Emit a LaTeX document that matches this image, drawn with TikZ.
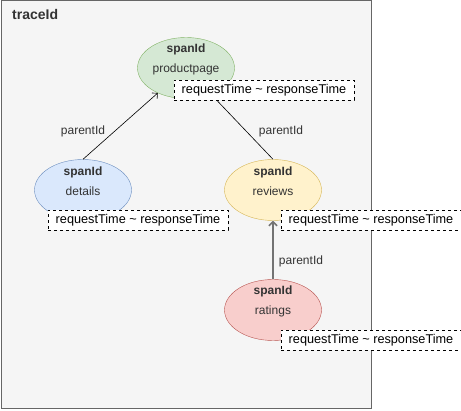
\documentclass[tikz,border=0pt]{standalone}
\usepackage{fontspec}
\setmainfont{Liberation Sans}
\usetikzlibrary{shapes.geometric, arrows.meta}

\definecolor{framefill}{HTML}{F5F5F5}
\definecolor{frameline}{HTML}{666666}
\definecolor{textgray}{HTML}{333333}
\definecolor{greenfill}{HTML}{D5E8D4}
\definecolor{greenline}{HTML}{82B366}
\definecolor{bluefill}{HTML}{DAE8FC}
\definecolor{blueline}{HTML}{6C8EBF}
\definecolor{yellowfill}{HTML}{FFF2CC}
\definecolor{yellowline}{HTML}{D6B656}
\definecolor{redfill}{HTML}{F8CECC}
\definecolor{redline}{HTML}{B85450}

\tikzset{
  span/.style={ellipse, minimum width=97pt, minimum height=61pt, inner sep=0pt},
  spantext/.style={align=center, text=textgray, font=\fontsize{12}{20}\selectfont},
  timebox/.style={draw=black, dashed, fill=white, minimum width=180pt, minimum height=20pt,
    inner sep=0pt, font=\fontsize{12.7}{14}\selectfont},
  edgelabel/.style={text=textgray, font=\fontsize{12}{14}\selectfont, inner sep=0pt},
  parentarrow/.style={-{Straight Barb[length=4pt, width=8pt]}, line width=0.6pt}
}

\begin{document}
\begin{tikzpicture}[x=1pt, y=-1pt]
  \useasboundingbox (0,0) rectangle (461,411);

  % Trace frame
  \draw[fill=framefill, draw=frameline, line width=1pt] (1,1) rectangle (371,409);
  \node[anchor=west, text=textgray, font=\fontsize{14}{16}\selectfont\bfseries, inner sep=0pt] (trace) at (12,15) {traceId};

  % Spans
  \foreach \n/\x/\y/\c/\t in {pp/186/68/green/productpage, det/83/190/blue/details,
                              rev/273/190/yellow/reviews, rat/273/310/red/ratings} {
    \node[span, fill=\c fill, draw=\c line] (\n) at (\x,\y) {};
    \node[spantext] (\n text) at ([yshift=9pt]\n.center) {\textbf{spanId}\\\t}; % Two-line label
  }

  % Parent links
  \draw[parentarrow] (det.north) -- (pp);
  \draw[parentarrow] (rev.north) -- (pp);
  \draw[parentarrow, draw=black!55, line width=1.5pt] (rat) -- (rev);
  \node[edgelabel] (detlink) at (83,131) {parentId};
  \node[edgelabel] (revlink) at (281,131) {parentId};
  \node[edgelabel] (ratlink) at (301,261) {parentId};

  % Time ranges
  \node[timebox] (pptime) at (264,90) {requestTime \textasciitilde{} responseTime};
  \node[timebox] (dettime) at (138,220.5) {requestTime \textasciitilde{} responseTime};
  \node[timebox] (revtime) at (371,220.5) {requestTime \textasciitilde{} responseTime};
  \node[timebox] (rattime) at (371,340.5) {requestTime \textasciitilde{} responseTime};
\end{tikzpicture}
\end{document}
